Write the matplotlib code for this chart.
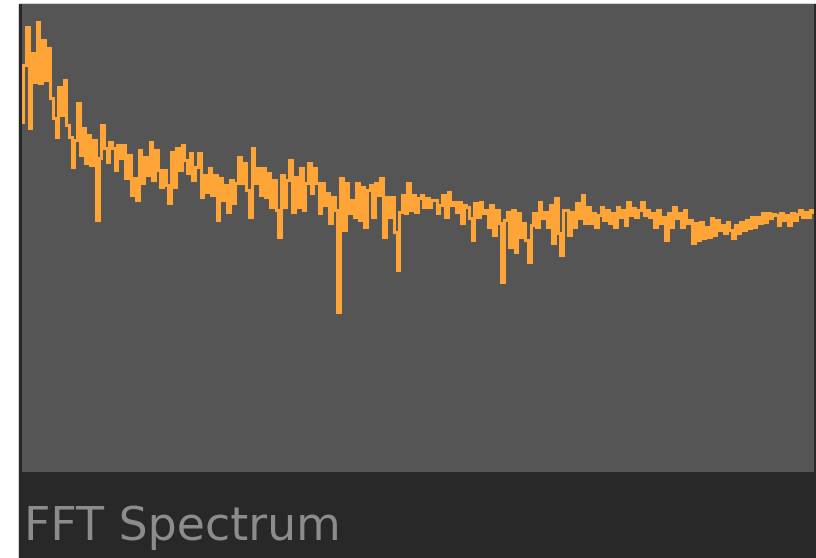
import matplotlib
matplotlib.use("Agg")
import matplotlib.pyplot as plt
from matplotlib.patches import Rectangle
import numpy as np

TITLE = "FFT Spectrum"

# magnitude per frequency bin (arbitrary units, 0 = floor, 468 = full scale)
magnitude = [
    350, 407, 445, 344, 419, 390, 450, 389, 432, 392, 424, 374, 354, 335,
    385, 357, 392, 347, 335, 305, 332, 369, 317, 344, 309, 337, 307, 332,
    252, 314, 347, 324, 310, 330, 324,
    302, 327, 314, 327, 294, 317, 277, 294,
    272, 322, 289, 315, 297, 330, 292, 322, 302, 285, 302, 287, 269, 320,
    285, 324, 302, 327, 312, 299, 319, 292, 305, 319, 275, 297, 280, 304,
    277, 297, 252, 294, 272, 287, 260, 292, 269, 289, 315, 289, 309, 282,
    255, 324, 289, 304, 277, 304, 275, 299, 265, 292, 262, 235, 297, 265,
    292, 312, 260, 295, 265, 304, 262, 289, 309, 279, 304, 289, 259, 289,
    267, 279, 249, 275, 262, 160, 294, 242, 289, 259, 272, 255, 289, 252,
    285, 245, 282,
    287, 255, 289, 277, 294, 235, 275, 255, 275, 240, 202, 260, 277, 259,
    289, 262, 277, 260, 274, 277, 265, 274, 265, 272, 272, 259, 267, 277,
    255, 280, 267, 270, 260, 270, 249, 267, 265, 254, 232, 269, 255,
    270, 259, 262, 245, 267, 237, 262, 249, 190, 252, 260, 225, 262, 220,
    259, 235, 249, 232, 210, 247, 259, 245, 270, 254, 260, 245, 267, 229,
    274, 239, 217, 262, 262, 237, 260, 245, 269, 254, 277, 249, 265, 249,
    259, 245, 257,
    265, 252, 262, 249, 259, 245, 265, 255, 262, 247, 270, 257, 264, 255,
    262, 270, 257, 262, 255, 259, 245, 262, 249, 255, 232, 259, 245, 265,
    254, 259, 245, 262, 249, 252, 229, 249, 232, 250, 234, 245, 235,
    254, 237, 252, 242, 247, 239, 250, 242, 234, 247, 239, 250, 242, 252,
    244, 255, 245, 255, 249, 259, 250, 259, 254, 258, 257, 247, 259, 252,
    257, 247, 259, 252, 258, 262, 255, 260, 255, 262, 260,
]

LINE_COLOR = "#FFA436"
PLOT_BG = "#555555"
PANEL_BG = "#282828"
TEXT_COLOR = "#8c8c8c"

W, H = 816, 558
fig = plt.figure(figsize=(W / 100, H / 100), dpi=100, facecolor="white")

# dark panel behind the plot and the caption strip
fig.patches.append(Rectangle((19 / W, 0), 1 - 19 / W, (H - 4) / H,
                             transform=fig.transFigure, color=PANEL_BG, zorder=-10))

ax = fig.add_axes([22 / W, (H - 472) / H, 792 / W, 468 / H])
ax.set_zorder(1)
ax.set_facecolor(PLOT_BG)
bins = np.arange(len(magnitude))
ax.plot(bins, magnitude, color=LINE_COLOR, linewidth=2.2,
        drawstyle="steps-mid", solid_joinstyle="miter")
ax.set_xlim(0, len(magnitude) - 1)
ax.set_ylim(0, 468)
ax.set_xticks([])
ax.set_yticks([])
for s in ax.spines.values():
    s.set_visible(False)

fig.text(24 / W, (H - 540) / H, TITLE, color=TEXT_COLOR, fontsize=33,
         family="DejaVu Sans", ha="left", va="baseline", zorder=2)

fig.savefig("out.png", dpi=100, facecolor=fig.get_facecolor())
